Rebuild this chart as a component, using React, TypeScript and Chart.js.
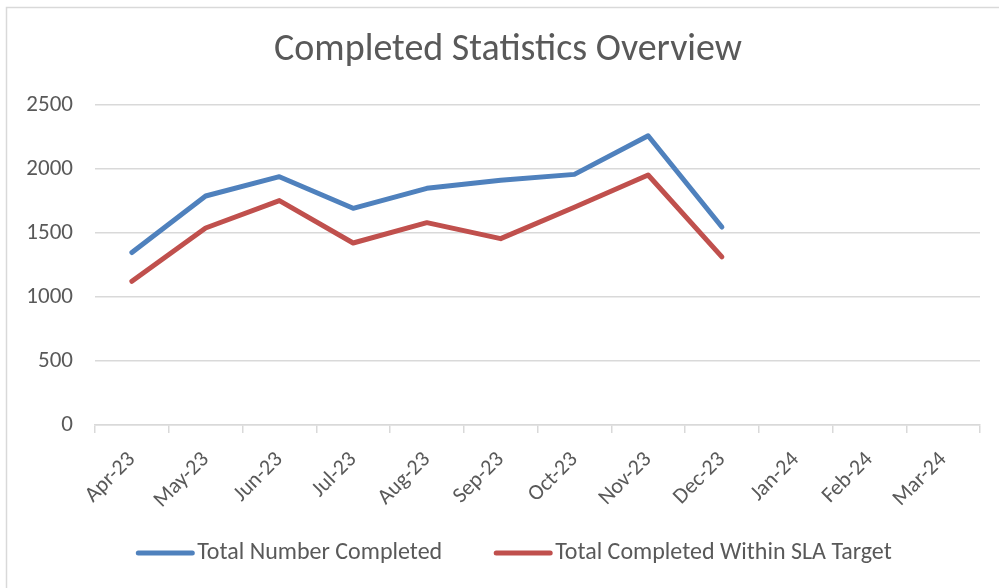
import React, { useEffect, useRef } from "react";
import { Chart, registerables } from "chart.js";

Chart.register(...registerables);

const months = ["Apr-23", "May-23", "Jun-23", "Jul-23", "Aug-23", "Sep-23", "Oct-23", "Nov-23", "Dec-23", "Jan-24", "Feb-24", "Mar-24"];
const totalCompleted: (number | null)[] = [1347, 1789, 1940, 1693, 1849, 1912, 1958, 2260, 1547, null, null, null];
const withinSLA: (number | null)[] = [1123, 1539, 1753, 1422, 1581, 1456, 1701, 1953, 1313, null, null, null];
const yMin = 0;
const yMax = 2500;
const yStep = 500;
const chartTitle = "Completed Statistics Overview";

const FONT = "Carlito, Calibri, Lato, sans-serif";
const TEXT = "#595959";
const GRID = "#d9d9d9";

const frame = {
  id: "frame",
  beforeDraw(chart: any) {
    const ctx = chart.ctx;
    ctx.save();
    ctx.fillStyle = "#ffffff";
    ctx.fillRect(0, 0, chart.width, chart.height);
    ctx.strokeStyle = GRID;
    ctx.lineWidth = 1.5;
    ctx.beginPath();
    ctx.moveTo(6.5, chart.height);
    ctx.lineTo(6.5, 7.5);
    ctx.lineTo(chart.width, 7.5);
    ctx.stroke();
    ctx.restore();
  },
};

const titleAndLegend = {
  id: "titleAndLegend",
  afterDraw(chart: any) {
    const ctx = chart.ctx;
    ctx.save();
    // title
    ctx.fillStyle = TEXT;
    ctx.font = `38px ${FONT}`;
    ctx.textAlign = "center";
    ctx.textBaseline = "alphabetic";
    ctx.fillText(chartTitle, 508, 60);
    // legend
    const sets = chart.data.datasets;
    const sample = 58;
    const gap = 3;
    const itemGap = 52;
    const lineY = 553;
    const baseY = 558.5;
    ctx.font = `24px ${FONT}`;
    const widths = sets.map((d: any) => ctx.measureText(d.label).width);
    const total = widths.reduce((a: number, w: number) => a + sample + gap + w, 0) + itemGap * (sets.length - 1);
    let x = 514 - total / 2;
    sets.forEach((d: any, i: number) => {
      ctx.strokeStyle = d.borderColor;
      ctx.lineWidth = 5;
      ctx.lineCap = "round";
      ctx.beginPath();
      ctx.moveTo(x + 2, lineY);
      ctx.lineTo(x + sample - 2, lineY);
      ctx.stroke();
      ctx.fillStyle = TEXT;
      ctx.textAlign = "left";
      ctx.textBaseline = "alphabetic";
      ctx.fillText(d.label, x + sample + gap, baseY);
      x += sample + gap + widths[i] + itemGap;
    });
    ctx.restore();
  },
};

export default function App() {
  const ref = useRef<HTMLCanvasElement>(null);
  useEffect(() => {
    if (!ref.current) return;
    const chart = new Chart(ref.current, {
      type: "line",
      data: {
        labels: months,
        datasets: [
          {
            label: "Total Number Completed",
            data: totalCompleted,
            borderColor: "#4f81bd",
            backgroundColor: "#4f81bd",
            borderWidth: 5,
            pointRadius: 0,
            tension: 0,
            borderCapStyle: "round",
            borderJoinStyle: "round",
          },
          {
            label: "Total Completed Within SLA Target",
            data: withinSLA,
            borderColor: "#c0504d",
            backgroundColor: "#c0504d",
            borderWidth: 5,
            pointRadius: 0,
            tension: 0,
            borderCapStyle: "round",
            borderJoinStyle: "round",
          },
        ],
      },
      options: {
        responsive: false,
        animation: false,
        layout: { padding: { left: 0, right: 19, top: 105, bottom: 63 } },
        plugins: {
          title: { display: false },
          legend: { display: false },
          tooltip: { enabled: false },
        },
        scales: {
          x: {
            offset: true,
            grid: { display: true, drawOnChartArea: false, offset: true, color: GRID, lineWidth: 1.5, tickLength: 8 },
            border: { display: true, color: GRID, width: 1.5 },
            ticks: {
              color: TEXT,
              font: { family: FONT, size: 22 },
              maxRotation: 45,
              minRotation: 45,
              autoSkip: false,
              padding: 14,
            },
            afterFit: (s: any) => {
              s.height = 100;
            },
          },
          y: {
            min: yMin,
            max: yMax,
            grid: { color: GRID, lineWidth: 1.5, drawTicks: false },
            border: { display: false },
            ticks: {
              stepSize: yStep,
              color: TEXT,
              font: { family: FONT, size: 23 },
              padding: 22,
              callback: (v: any) => String(v),
            },
            afterFit: (s: any) => {
              s.width = 95;
            },
          },
        },
      },
      plugins: [frame, titleAndLegend],
    });
    return () => chart.destroy();
  }, []);
  return (
    <div style={{ position: "fixed", left: 0, top: 0, width: 999, height: 588 }}>
      <canvas ref={ref} width={999} height={588} style={{ width: 999, height: 588 }} />
    </div>
  );
}
